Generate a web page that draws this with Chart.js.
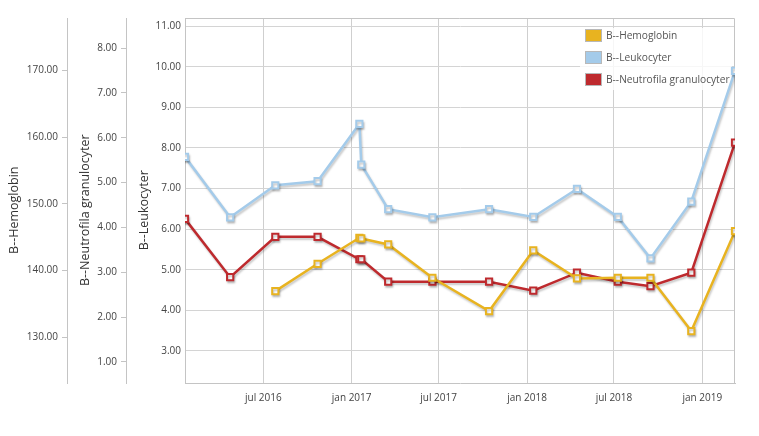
<!DOCTYPE html>
<html>
<head>
<meta charset="utf-8">
<script src="https://cdn.jsdelivr.net/npm/chart.js@4"></script>
<style>
  html, body { margin: 0; padding: 0; background: #fff; }
  #wrap { width: 759px; height: 436px; }
</style>
</head>
<body>
<div id="wrap"><canvas id="chart" width="759" height="436"></canvas></div>
<script>
// sample dates
const dates = ['2016-01-20', '2016-04-23', '2016-07-26', '2016-10-22', '2017-01-17', '2017-01-21',
    '2017-03-18', '2017-06-18', '2017-10-14', '2018-01-14', '2018-04-15', '2018-07-09',
    '2018-09-15', '2018-12-09', '2019-03-10'];

const hemoglobin = [null, null, 136.9, 141.0, 144.9, 144.8, 143.9, 138.9, 133.9, 143.0, 138.8, 138.9, 138.9, 130.9, 145.9];
const leukocyter = [7.78, 6.29, 7.08, 7.18, 8.59, 7.59, 6.49, 6.29, 6.49, 6.30, 6.99, 6.30, 5.28, 6.68, 9.90];
const neutrofila = [4.19, 2.89, 3.79, 3.79, 3.29, 3.29, 2.79, 2.79, 2.79, 2.59, 2.99, 2.79, 2.69, 2.99, 5.89];

const xTickDates = ['2016-07-01', '2017-01-01', '2017-07-01', '2018-01-01', '2018-07-01', '2019-01-01'];
const xTickLabels = ['jul 2016', 'jan 2017', 'jul 2017', 'jan 2018', 'jul 2018', 'jan 2019'];

const hemTicks = [130, 140, 150, 160, 170];
const neuTicks = [1, 2, 3, 4, 5, 6, 7, 8];
const leuTicks = [3, 4, 5, 6, 7, 8, 9, 10, 11];

document.addEventListener("DOMContentLoaded", function () {
    Chart.defaults.font.family = "'Open Sans', sans-serif";
    Chart.defaults.font.size = 10;
    Chart.defaults.color = "#444";

    const xs = dates.map(d => Date.parse(d));
    const xTicks = xTickDates.map(d => Date.parse(d));

    function points(values) {
        return xs.map((x, i) => ({ x: x, y: values[i] }));
    }

    function series(label, values, color, axis) {
        return {
            label: label,
            data: points(values),
            yAxisID: axis,
            borderColor: color,
            backgroundColor: color,
            borderWidth: 2.5,
            pointStyle: "rect",
            pointRadius: 4.4,
            pointBorderWidth: 2,
            pointBackgroundColor: "#fff",
            pointBorderColor: color,
            tension: 0
        };
    }

    const shadow = {
        id: "shadow",
        beforeDatasetDraw(chart) {
            const c = chart.ctx;
            c.save();
            c.shadowColor = "rgba(0,0,0,0.22)";
            c.shadowOffsetX = 1;
            c.shadowOffsetY = 2;
            c.shadowBlur = 2;
        },
        afterDatasetDraw(chart) {
            chart.ctx.restore();
        }
    };

    // plot frame + legend box, drawn under the lines
    const frameAndLegend = {
        id: "frameAndLegend",
        beforeDatasetsDraw(chart) {
            const a = chart.chartArea, c = chart.ctx;
            c.save();
            c.strokeStyle = "#c4c4c4";
            c.lineWidth = 1;
            c.beginPath();
            c.moveTo(a.left, a.top + 0.5);
            c.lineTo(a.right - 0.5, a.top + 0.5);
            c.lineTo(a.right - 0.5, a.bottom);
            c.stroke();

            const left = a.right - 150, top = a.top + 10;
            c.fillStyle = "rgba(255,255,255,0.8)";
            c.fillRect(left - 5, top, 152, 62);
            c.font = "10.2px 'Open Sans', sans-serif";
            c.textBaseline = "middle";
            chart.data.datasets.forEach((ds, i) => {
                const y = top + 7 + i * 22;
                c.fillStyle = ds.borderColor;
                c.fillRect(left + 0.5, y - 5.5, 16, 12);
                c.strokeStyle = "#b8b8b8";
                c.strokeRect(left + 0.5, y - 5.5, 16, 12);
                c.fillStyle = "#555";
                c.fillText(ds.label, left + 21, y + 1);
            });
            c.restore();
        }
    };

    function fixWidth(w) {
        return function (scale) { scale.width = w; };
    }

    function setTicks(list) {
        return function (scale) { scale.ticks = list.map(v => ({ value: v })); };
    }

    const titleFont = { size: 12.5 };
    // trailing spaces push the rotated titles a little lower, like the original
    const pad = "      ";

    new Chart(document.getElementById("chart"), {
        type: "line",
        data: {
            datasets: [
                series("B--Hemoglobin", hemoglobin, "#e8b320", "yHem"),
                series("B--Leukocyter", leukocyter, "#a4cbea", "yLeu"),
                series("B--Neutrofila granulocyter", neutrofila, "#be2a2e", "yNeu")
            ]
        },
        options: {
            responsive: false,
            animation: false,
            layout: { padding: { top: 18, right: 24, bottom: 23, left: 0 } },
            plugins: { legend: { display: false }, tooltip: { enabled: false } },
            scales: {
                x: {
                    type: "linear",
                    min: xs[0],
                    max: xs[xs.length - 1],
                    afterBuildTicks: setTicks(xTicks),
                    afterFit: function (scale) { scale.height = 30; },
                    ticks: {
                        padding: 9,
                        maxRotation: 0,
                        autoSkip: false,
                        callback: function (v) {
                            const i = xTicks.indexOf(v);
                            return i >= 0 ? xTickLabels[i] : "";
                        }
                    },
                    grid: { color: "#cfcfcf", drawTicks: false },
                    border: { color: "#c4c4c4" }
                },
                yLeu: {
                    position: "left",
                    min: 2.21,
                    max: 11.2,
                    afterBuildTicks: setTicks(leuTicks),
                    afterFit: fixWidth(59),
                    ticks: { padding: 4, callback: v => v.toFixed(2) },
                    grid: { color: "#d4d4d4", drawTicks: false },
                    border: { color: "#c4c4c4" },
                    title: { display: true, text: "B--Leukocyter" + pad, font: titleFont, color: "#333", padding: { top: 11, bottom: 0 } }
                },
                yNeu: {
                    position: "left",
                    min: 0.53,
                    max: 8.67,
                    afterBuildTicks: setTicks(neuTicks),
                    afterFit: fixWidth(59),
                    ticks: { padding: 4, callback: v => v.toFixed(2) },
                    grid: { drawOnChartArea: false, color: "#c4c4c4", tickLength: 5 },
                    border: { color: "#c4c4c4" },
                    title: { display: true, text: "B--Neutrofila granulocyter" + pad, font: titleFont, color: "#333", padding: { top: 11, bottom: 0 } }
                },
                yHem: {
                    position: "left",
                    min: 123.1,
                    max: 177.9,
                    afterBuildTicks: setTicks(hemTicks),
                    afterFit: fixWidth(67),
                    ticks: { padding: 4, callback: v => v.toFixed(2) },
                    grid: { drawOnChartArea: false, color: "#c4c4c4", tickLength: 5 },
                    border: { color: "#c4c4c4" },
                    title: { display: true, text: "B--Hemoglobin" + pad, font: titleFont, color: "#333", padding: { top: 7, bottom: 0 } }
                }
            }
        },
        plugins: [shadow, frameAndLegend]
    });
});
</script>
</body>
</html>
